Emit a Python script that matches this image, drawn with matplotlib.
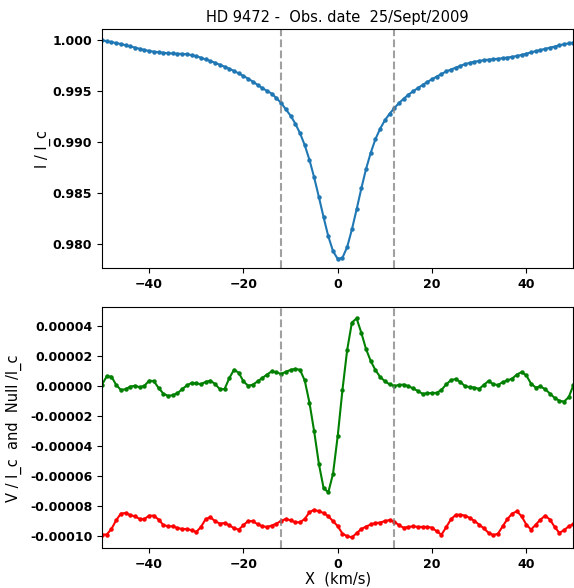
import numpy as np
import matplotlib
matplotlib.use("Agg")
from matplotlib import pyplot as plt

# velocity grid (km/s)
vel = list(range(-50, 51))

# Stokes I / Ic
stokes_i = [
    1.00000, 0.99991, 0.99982, 0.99973, 0.99963, 0.99952, 0.99940, 0.99928, 0.99916, 0.99905,
    0.99895, 0.99888, 0.99882, 0.99877, 0.99873, 0.99870, 0.99868, 0.99866, 0.99863, 0.99854,
    0.99843, 0.99829, 0.99811, 0.99796, 0.99778, 0.99759, 0.99740, 0.99720, 0.99698, 0.99674,
    0.99649, 0.99622, 0.99593, 0.99561, 0.99530, 0.99502, 0.99475, 0.99430, 0.99383, 0.99320,
    0.99258, 0.99180, 0.99085, 0.98968, 0.98823, 0.98650, 0.98458, 0.98258, 0.98070, 0.97925,
    0.97848, 0.97860, 0.97965, 0.98138, 0.98335, 0.98542, 0.98733, 0.98893, 0.99028, 0.99130,
    0.99213, 0.99277, 0.99332, 0.99383, 0.99425, 0.99465, 0.99498, 0.99530, 0.99560, 0.99590,
    0.99617, 0.99643, 0.99668, 0.99693, 0.99712, 0.99730, 0.99748, 0.99765, 0.99778, 0.99789,
    0.99797, 0.99804, 0.99810, 0.99814, 0.99818, 0.99824, 0.99830, 0.99837, 0.99846, 0.99856,
    0.99868, 0.99881, 0.99893, 0.99904, 0.99916, 0.99927, 0.99938, 0.99950, 0.99961, 0.99970,
    0.99978,
]

# Stokes V / Ic  (units of 1e-5)
stokes_v = [
    0.10, 0.66, 0.64, 0.09, -0.25, -0.20, -0.03, 0.03, -0.07, 0.03,
    0.37, 0.34, -0.12, -0.49, -0.65, -0.60, -0.47, -0.20, 0.05, 0.22,
    0.18, 0.14, 0.29, 0.37, 0.14, -0.20, -0.19, 0.54, 1.10, 0.90,
    0.32, 0.03, 0.10, 0.32, 0.55, 0.78, 0.99, 0.92, 0.82, 0.96,
    1.09, 1.16, 1.09, 0.38, -1.10, -3.02, -5.19, -6.81, -7.09, -5.85,
    -3.31, -0.25, 2.42, 4.25, 4.53, 3.57, 2.48, 1.68, 1.07, 0.62,
    0.33, 0.12, 0.02, 0.08, 0.11, 0.00, -0.15, -0.32, -0.51, -0.47,
    -0.46, -0.44, -0.25, 0.12, 0.40, 0.48, 0.28, 0.00, -0.06, -0.09,
    -0.18, 0.09, 0.35, 0.13, 0.08, 0.27, 0.38, 0.51, 0.78, 0.94,
    0.72, 0.17, -0.09, -0.02, -0.20, -0.49, -0.78, -0.97, -1.03, -0.73,
    0.09,
]

# Null / Ic, shifted (units of 1e-5)
null_n = [
    -9.91, -9.91, -9.54, -8.96, -8.51, -8.47, -8.62, -8.69, -8.87, -8.87,
    -8.65, -8.65, -8.91, -9.27, -9.36, -9.36, -9.47, -9.54, -9.54, -9.62,
    -9.74, -9.40, -8.87, -8.76, -9.02, -9.18, -9.14, -9.29, -9.49, -9.58,
    -9.29, -9.00, -9.02, -9.22, -9.36, -9.40, -9.31, -9.18, -9.00, -8.87,
    -8.96, -9.09, -9.09, -8.87, -8.42, -8.25, -8.36, -8.47, -8.69, -9.02,
    -9.35, -9.85, -10.02, -10.10, -9.82, -9.54, -9.38, -9.24, -9.14, -9.11,
    -9.01, -8.94, -9.05, -9.29, -9.46, -9.40, -9.36, -9.40, -9.40, -9.40,
    -9.45, -9.70, -9.92, -9.42, -8.90, -8.60, -8.58, -8.65, -8.80, -9.00,
    -9.25, -9.50, -9.80, -9.95, -9.85, -9.35, -8.87, -8.51, -8.36, -8.69,
    -9.25, -9.58, -9.25, -8.91, -8.65, -8.91, -9.40, -9.80, -9.62, -9.36,
    -9.22,
]

line_limits = [-12, 12]

vel = np.array(vel)
stokes_v = np.array(stokes_v) * 1e-5
null_n = np.array(null_n) * 1e-5

fig = plt.figure(figsize=(5.74, 5.88), dpi=100)
ax1 = fig.add_axes([0.1777, 1 - 268.3 / 588, 0.8214, (268.3 - 29) / 588])
ax2 = fig.add_axes([0.1777, 1 - 548.3 / 588, 0.8214, (548.3 - 307.3) / 588])

ax1.plot(vel, stokes_i, color="#1f77b4", lw=1.5, marker="o", ms=2.2)
ax1.set_xlim(-50, 50)
ax1.set_ylim(0.97756, 1.00111)
ax1.set_yticks([0.980, 0.985, 0.990, 0.995, 1.000])
ax1.set_ylabel("I / I_c", fontsize=10.5)
ax1.yaxis.set_label_coords(-0.108, 0.5)
ax1.set_title("HD 9472 -  Obs. date  25/Sept/2009", fontsize=10.5, pad=5)

ax2.plot(vel, stokes_v, color="green", lw=1.5, marker="o", ms=2.2)
ax2.plot(vel, null_n, color="red", lw=1.5, marker="o", ms=2.2)
ax2.set_xlim(-50, 50)
ax2.set_ylim(-10.83e-5, 5.27e-5)
ax2.set_yticks(np.arange(-10, 5, 2) * 1e-5)
ax2.set_yticklabels(["%.5f" % t for t in np.arange(-10, 5, 2) * 1e-5])
ax2.set_ylabel("V / I_c  and  Null /I_c", fontsize=10.5)
ax2.yaxis.set_label_coords(-0.170, 0.5)
ax2.set_xlabel("X  (km/s)", fontsize=10.5, labelpad=0)

for ax in (ax1, ax2):
    for v in line_limits:
        ax.axvline(v, color="gray", ls="--", lw=1.5, alpha=0.75)
    ax.set_xticks([-40, -20, 0, 20, 40])
    for lbl in ax.get_xticklabels() + ax.get_yticklabels():
        lbl.set_fontweight("bold")
        lbl.set_fontsize(9)

fig.savefig("out.png", dpi=100)
